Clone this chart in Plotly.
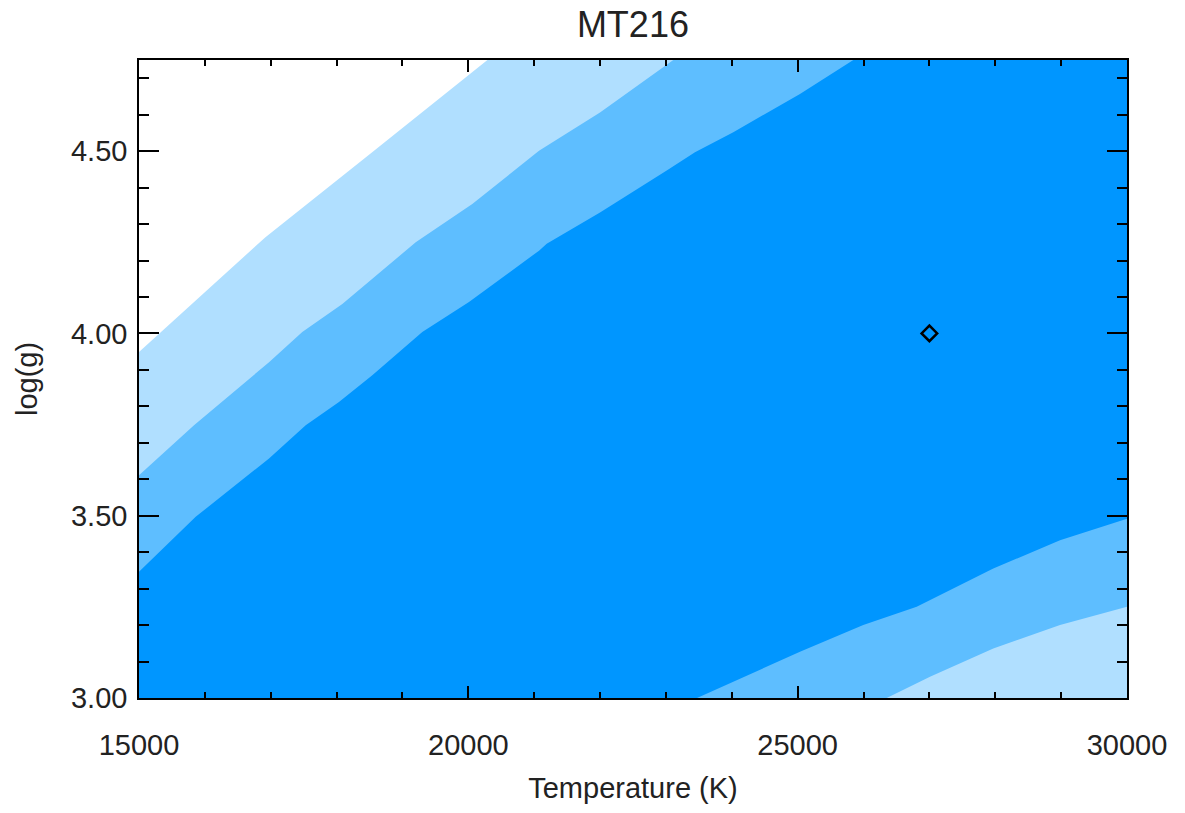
import plotly.graph_objects as go

# Axis domain
T_MIN, T_MAX = 15000, 30000
G_MIN, G_MAX = 3.0, 4.75

# Contour boundaries (Temperature K, log g)
# Upper-left: white / light
A_T = [15000, 16920, 18540, 20290]
A_G = [3.949, 4.264, 4.497, 4.750]
# Upper-left: light / medium
B_T = [15000, 15835, 16974, 17479, 18087, 19201, 20060, 21073, 21999, 23112]
B_G = [3.611, 3.748, 3.921, 4.004, 4.081, 4.250, 4.355, 4.501, 4.606, 4.750]
# Upper-left: medium / dark
C_T = [15000, 15861, 16974, 17531, 18036, 18542, 19301, 20010, 21073, 21190,
       21999, 23012, 23441, 24023, 25035, 25845]
C_G = [3.346, 3.497, 3.657, 3.748, 3.812, 3.885, 4.004, 4.086, 4.227, 4.246,
       4.332, 4.447, 4.497, 4.552, 4.657, 4.750]
# Lower-right: dark / medium
D_T = [23472, 25035, 25996, 26807, 27970, 28983, 30000]
D_G = [3.000, 3.127, 3.200, 3.250, 3.355, 3.433, 3.492]
# Lower-right: medium / light
E_T = [26352, 27009, 27970, 28983, 30000]
E_G = [3.000, 3.058, 3.136, 3.200, 3.250]

# Best fit
BEST_T = [27000]
BEST_G = [4.0]

LIGHT = "#B0DFFF"
MEDIUM = "#5EBEFF"
DARK = "#0096FF"

FONT = "Liberation Sans"
TXT = "#222222"

fig = go.Figure()

# Light region: below boundary A
lx = A_T + [T_MAX, T_MAX, T_MIN]
ly = A_G + [G_MAX, G_MIN, G_MIN]
fig.add_trace(go.Scatter(x=lx, y=ly, fill="toself", fillcolor=LIGHT, mode="none",
                         hoverinfo="skip", showlegend=False))

# Medium region: below B, above E
mx = B_T + [T_MAX] + E_T[::-1] + [T_MIN]
my = B_G + [G_MAX] + E_G[::-1] + [G_MIN]
fig.add_trace(go.Scatter(x=mx, y=my, fill="toself", fillcolor=MEDIUM, mode="none",
                         hoverinfo="skip", showlegend=False))

# Dark region: below C, above D
dx = C_T + [T_MAX] + D_T[::-1] + [T_MIN]
dy = C_G + [G_MAX] + D_G[::-1] + [G_MIN]
fig.add_trace(go.Scatter(x=dx, y=dy, fill="toself", fillcolor=DARK, mode="none",
                         hoverinfo="skip", showlegend=False))

fig.add_trace(go.Scatter(x=BEST_T, y=BEST_G, mode="markers",
                         marker=dict(symbol="diamond-open", size=12, color="black",
                                     line=dict(width=2.5, color="black")),
                         showlegend=False))

fig.update_layout(
    width=1185, height=813,
    margin=dict(l=139, r=58, t=60, b=115, autoexpand=False),
    paper_bgcolor="white", plot_bgcolor="white",
    font=dict(family=FONT, size=29, color=TXT),
    title=dict(text="MT216", x=0.5341, xanchor="center", y=1 - 24 / 813,
               yanchor="middle", yref="container",
               font=dict(family=FONT, size=36, color=TXT)),
)

fig.update_xaxes(
    range=[T_MIN, T_MAX], tick0=15000, dtick=5000, tickformat="d",
    ticks="inside", ticklen=12, tickwidth=1.5, tickcolor="black",
    showline=True, linecolor="black", linewidth=1.5, mirror="ticks",
    showgrid=False, zeroline=False, ticklabelstandoff=20,
    tickfont=dict(family=FONT, size=29, color=TXT),
    minor=dict(dtick=1000, ticks="inside", ticklen=6, tickwidth=1.5,
               tickcolor="black", showgrid=False),
    title=dict(text="Temperature (K)", standoff=18,
               font=dict(family=FONT, size=29, color=TXT)),
)
fig.update_yaxes(
    range=[G_MIN, G_MAX], tick0=3.0, dtick=0.5, tickformat=".2f",
    ticks="inside", ticklen=20, tickwidth=1.5, tickcolor="black",
    showline=True, linecolor="black", linewidth=1.5, mirror="ticks",
    showgrid=False, zeroline=False, ticklabelstandoff=4,
    tickfont=dict(family=FONT, size=29, color=TXT),
    minor=dict(dtick=0.1, ticks="inside", ticklen=10, tickwidth=1.5,
               tickcolor="black", showgrid=False),
    title=dict(text="log(g)", standoff=25,
               font=dict(family=FONT, size=29, color=TXT)),
)

fig.write_html("out.html")
